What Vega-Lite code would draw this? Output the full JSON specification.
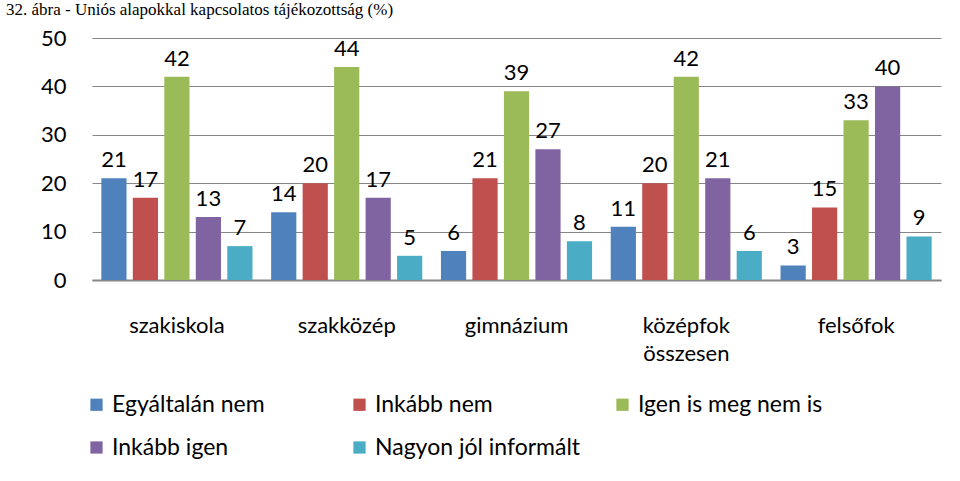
{
  "$schema": "https://vega.github.io/schema/vega-lite/v6.json",
  "width": 849,
  "height": 242,
  "autosize": {"type": "none"},
  "padding": {"left": 92, "top": 38, "right": 19, "bottom": 201},
  "background": "white",
  "title": {
    "text": "32. ábra - Uniós alapokkal kapcsolatos tájékozottság (%)",
    "anchor": "start",
    "frame": "group",
    "font": "Liberation Serif",
    "fontSize": 17,
    "fontWeight": "normal",
    "color": "black",
    "dx": -86,
    "dy": -8,
    "offset": 0
  },
  "data": {
    "values": [
      {"cat": "szakiskola", "s": "Egyáltalán nem", "v": 21},
      {"cat": "szakiskola", "s": "Inkább nem", "v": 17},
      {"cat": "szakiskola", "s": "Igen is meg nem is", "v": 42},
      {"cat": "szakiskola", "s": "Inkább igen", "v": 13},
      {"cat": "szakiskola", "s": "Nagyon jól informált", "v": 7},
      {"cat": "szakközép", "s": "Egyáltalán nem", "v": 14},
      {"cat": "szakközép", "s": "Inkább nem", "v": 20},
      {"cat": "szakközép", "s": "Igen is meg nem is", "v": 44},
      {"cat": "szakközép", "s": "Inkább igen", "v": 17},
      {"cat": "szakközép", "s": "Nagyon jól informált", "v": 5},
      {"cat": "gimnázium", "s": "Egyáltalán nem", "v": 6},
      {"cat": "gimnázium", "s": "Inkább nem", "v": 21},
      {"cat": "gimnázium", "s": "Igen is meg nem is", "v": 39},
      {"cat": "gimnázium", "s": "Inkább igen", "v": 27},
      {"cat": "gimnázium", "s": "Nagyon jól informált", "v": 8},
      {"cat": "középfok összesen", "s": "Egyáltalán nem", "v": 11},
      {"cat": "középfok összesen", "s": "Inkább nem", "v": 20},
      {"cat": "középfok összesen", "s": "Igen is meg nem is", "v": 42},
      {"cat": "középfok összesen", "s": "Inkább igen", "v": 21},
      {"cat": "középfok összesen", "s": "Nagyon jól informált", "v": 6},
      {"cat": "felsőfok", "s": "Egyáltalán nem", "v": 3},
      {"cat": "felsőfok", "s": "Inkább nem", "v": 15},
      {"cat": "felsőfok", "s": "Igen is meg nem is", "v": 33},
      {"cat": "felsőfok", "s": "Inkább igen", "v": 40},
      {"cat": "felsőfok", "s": "Nagyon jól informált", "v": 9}
    ]
  },
  "encoding": {
    "x": {
      "field": "cat",
      "type": "nominal",
      "sort": null,
      "title": null,
      "scale": {"paddingInner": 0.11, "paddingOuter": 0.055},
      "axis": {
        "labelAngle": 0,
        "labelFont": "Lato",
        "labelFontSize": 22,
        "labelColor": "black",
        "labelPadding": 35,
        "labelBaseline": "top",
        "labelLineHeight": 28,
        "labelExpr": "datum.label == 'középfok összesen' ? ['középfok', 'összesen'] : datum.label",
        "ticks": false,
        "domainColor": "#868686",
        "domainWidth": 2
      }
    },
    "xOffset": {
      "field": "s",
      "type": "nominal",
      "sort": null,
      "scale": {"paddingInner": 0.2, "paddingOuter": 0}
    },
    "y": {
      "field": "v",
      "type": "quantitative",
      "title": null,
      "scale": {"domain": [0, 50]},
      "axis": {
        "values": [0, 10, 20, 30, 40, 50],
        "labelFont": "Lato",
        "labelFontSize": 22,
        "labelColor": "black",
        "labelPadding": 26,
        "ticks": false,
        "domain": false,
        "gridColor": "#868686",
        "gridWidth": 1
      }
    },
    "color": {
      "field": "s",
      "type": "nominal",
      "sort": null,
      "scale": {
        "domain": ["Egyáltalán nem", "Inkább nem", "Igen is meg nem is", "Inkább igen", "Nagyon jól informált"],
        "range": ["#4F81BD", "#C0504D", "#9BBB59", "#8064A2", "#4BACC6"]
      },
      "legend": {
        "title": null,
        "orient": "none",
        "legendX": -7,
        "legendY": 355,
        "direction": "horizontal",
        "columns": 3,
        "gridAlign": "all",
        "columnPadding": 30,
        "rowPadding": 19,
        "symbolType": "square",
        "symbolSize": 150,
        "symbolStrokeWidth": 0,
        "symbolOffset": 0,
        "labelFont": "Lato",
        "labelFontSize": 23,
        "labelColor": "black",
        "labelLimit": 320,
        "labelOffset": 4
      }
    }
  },
  "layer": [
    {"mark": {"type": "bar"}},
    {
      "mark": {"type": "text", "baseline": "bottom", "dy": -6, "font": "Lato", "fontSize": 22, "color": "black"},
      "encoding": {"text": {"field": "v", "type": "quantitative"}, "color": {"value": "black"}}
    }
  ],
  "config": {"view": {"stroke": null}}
}
